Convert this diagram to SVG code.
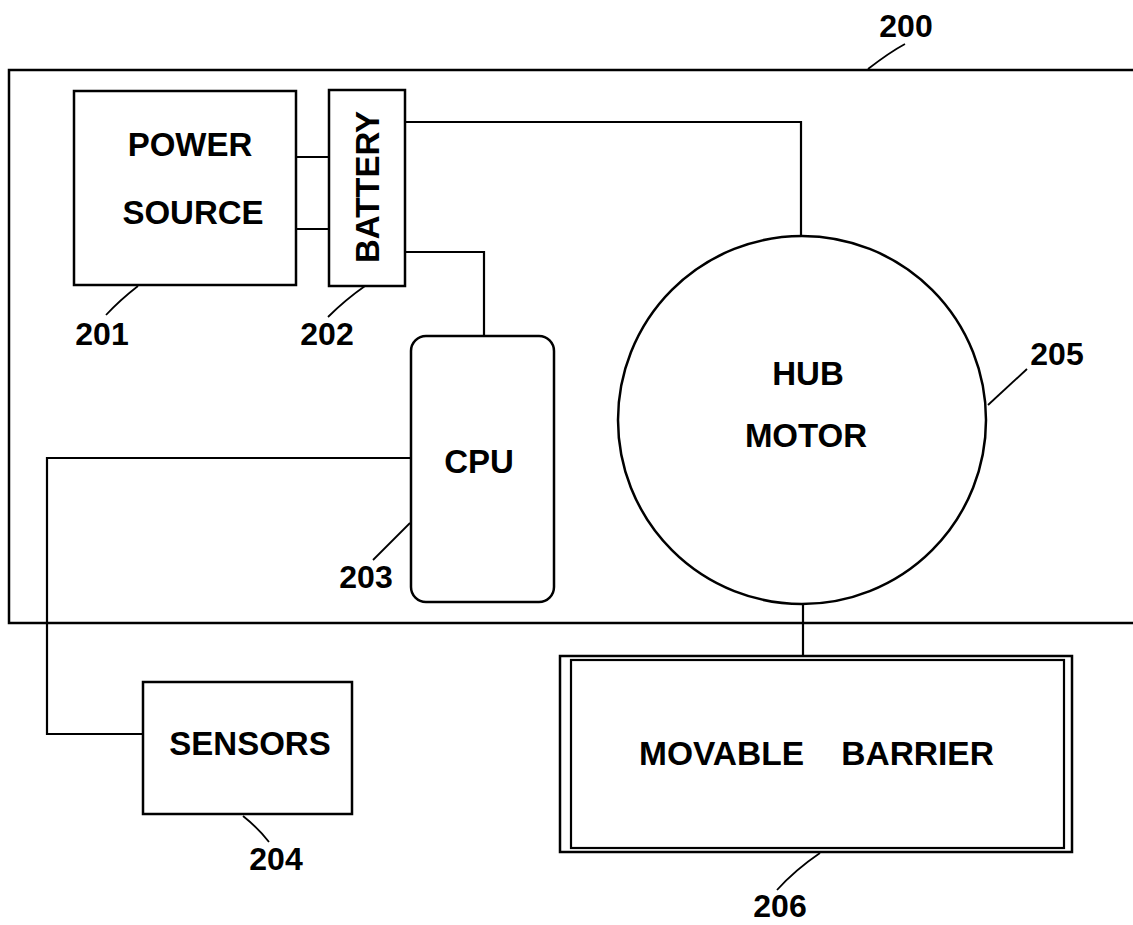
<svg xmlns="http://www.w3.org/2000/svg" width="1133" height="925" viewBox="0 0 1133 925">
<style>
.b{fill:none;stroke:#000;stroke-width:2.5}
.c{fill:none;stroke:#000;stroke-width:2.2}
.l{fill:none;stroke:#000;stroke-width:1.8}
text{font-family:"Liberation Sans",Arial,sans-serif;font-weight:bold;fill:#000}
.t{font-size:33px;text-anchor:middle}
.n{font-size:32px;text-anchor:middle}
</style>
<rect width="1133" height="925" fill="#fff"/>
<g id="system-200">
<rect class="b" x="9" y="70" width="1140" height="553"/>
<path class="l" d="M905,44 Q890,52 868,69"/>
<text class="n" x="906" y="37">200</text>
</g>
<g id="power-source-201">
<rect class="b" x="74" y="91" width="222" height="194"/>
<text class="t" x="190" y="156">POWER</text>
<text class="t" x="193" y="224">SOURCE</text>
<path class="l" d="M138,286 Q120,300 106,315"/>
<text class="n" x="102" y="345">201</text>
</g>
<g id="battery-202">
<rect class="b" x="329" y="90" width="76" height="196"/>
<text class="t" transform="translate(379,187) rotate(-90)">BATTERY</text>
<path class="l" d="M365,286 Q345,300 328,317"/>
<text class="n" x="327" y="345">202</text>
</g>
<g id="cpu-203">
<rect class="b" x="411" y="336" width="143" height="266" rx="15" ry="15"/>
<text class="t" x="479" y="473">CPU</text>
<path class="l" d="M410,523 L373,560"/>
<text class="n" x="366" y="588">203</text>
</g>
<g id="sensors-204">
<rect class="b" x="143" y="682" width="209" height="132"/>
<text class="t" x="250" y="755">SENSORS</text>
<path class="l" d="M243,816 Q258,828 269,842"/>
<text class="n" x="276" y="870">204</text>
</g>
<g id="hub-motor-205">
<circle class="b" cx="802" cy="420" r="184"/>
<text class="t" x="808" y="385">HUB</text>
<text class="t" x="806" y="447">MOTOR</text>
<path class="l" d="M988,405 L1027,369"/>
<text class="n" x="1057" y="365">205</text>
</g>
<g id="movable-barrier-206">
<rect class="b" x="560" y="656" width="512" height="196"/>
<rect class="c" x="571" y="660" width="493" height="188"/>
<text x="639" y="765" style="white-space:pre;font-size:33.5px">MOVABLE    BARRIER</text>
<path class="l" d="M820,853 Q795,870 777,890"/>
<text class="n" x="780" y="917">206</text>
</g>
<g id="connectors">
<path class="c" d="M296,157 H329"/>
<path class="c" d="M296,229 H329"/>
<path class="c" d="M405,122 H801 V236"/>
<path class="c" d="M405,252 H484 V336"/>
<path class="c" d="M411,458 H47 V734 H143"/>
<path class="c" d="M803,604 V656"/>
</g>
</svg>
